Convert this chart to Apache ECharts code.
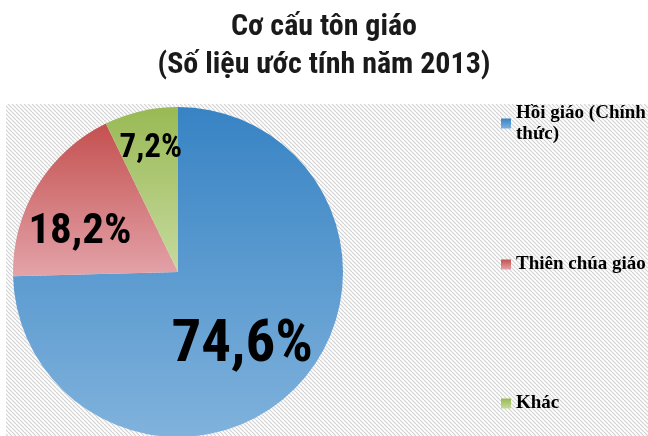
<!DOCTYPE html>
<html><head><meta charset="utf-8">
<script src="https://cdn.jsdelivr.net/npm/echarts@6/dist/echarts.min.js"></script>
<style>html,body{margin:0;padding:0;background:#fff}#c{width:648px;height:436px}</style>
</head><body><div id="c"></div>
<script>
// ---- data ----
const titleLines = ['Cơ cấu tôn giáo', '(Số liệu ước tính năm 2013)'];
const categories = ['Hồi giáo (Chính thức)', 'Thiên chúa giáo', 'Khác'];
const shares = [74.6, 18.2, 7.2];

// ---- styles ----
const topColors = ['#3783c4', '#c4504f', '#99b954'];
const bottomColors = ['#80b2dc', '#e3a3a9', '#c6da9e'];
const labelSizes = [59, 43, 33];
const labelShift = [[3, 15], [-25, 5], [-8, -40]];
const legendTops = [92, 254, 393];

function stripes() {
  const n = 4, c = document.createElement('canvas');
  c.width = n; c.height = n;
  const g = c.getContext('2d');
  g.fillStyle = '#ffffff'; g.fillRect(0, 0, n, n);
  g.strokeStyle = '#d2d2d2'; g.lineWidth = 1.2;
  for (const o of [-n, 0, n]) { g.beginPath(); g.moveTo(o, 0); g.lineTo(o + n, n); g.stroke(); }
  return c;
}
function wrapLegend(name) {
  if (name.length <= 16) return name;
  const k = name.lastIndexOf(' ');
  return name.slice(0, k) + '\n' + name.slice(k + 1);
}

const chart = echarts.init(document.getElementById('c'));
const data = categories.map((name, i) => ({
  name, value: shares[i],
  itemStyle: { color: new echarts.graphic.LinearGradient(0, 0, 0, 1, [
    { offset: 0, color: topColors[i] }, { offset: 1, color: bottomColors[i] }]) },
  label: { fontSize: labelSizes[i] }
}));

const legends = categories.map((name, i) => ({
  orient: 'vertical', left: 501, top: legendTops[i], padding: 0,
  itemWidth: 10, itemHeight: 10, itemGap: 0,
  icon: 'rect', selectedMode: false,
  data: [name],
  formatter: wrapLegend,
  textStyle: {
    fontFamily: 'Liberation Serif', fontWeight: 'bold', fontSize: 19, color: '#000',
    lineHeight: 21,
    padding: wrapLegend(name).indexOf('\n') >= 0 ? [21, 0, 0, 0] : 0
  },
  itemStyle: { borderWidth: 0 }
}));

chart.setOption({
  animation: false,
  backgroundColor: '#ffffff',
  title: {
    text: titleLines.join('\n'), left: 'center', top: 3,
    textStyle: { fontFamily: 'Roboto Condensed', fontWeight: 'bold', fontSize: 30, lineHeight: 38, color: '#1a1a1a' }
  },
  graphic: [{
    type: 'rect', z: -10, silent: true,
    shape: { x: 6, y: 104, width: 642, height: 332 },
    style: { fill: { image: stripes(), repeat: 'repeat' } }
  }],
  legend: legends,
  series: [{
    type: 'pie', center: [178, 272], radius: 165, startAngle: 90, clockwise: true,
    silent: true,
    label: {
      show: true, position: 'inside', color: '#000',
      fontFamily: 'Roboto Condensed', fontWeight: 'bold',
      formatter: p => String(p.value).replace('.', ',') + '%'
    },
    labelLine: { show: false },
    labelLayout: p => ({ dx: labelShift[p.dataIndex][0], dy: labelShift[p.dataIndex][1] }),
    emphasis: { disabled: true },
    data
  }]
});
</script></body></html>
